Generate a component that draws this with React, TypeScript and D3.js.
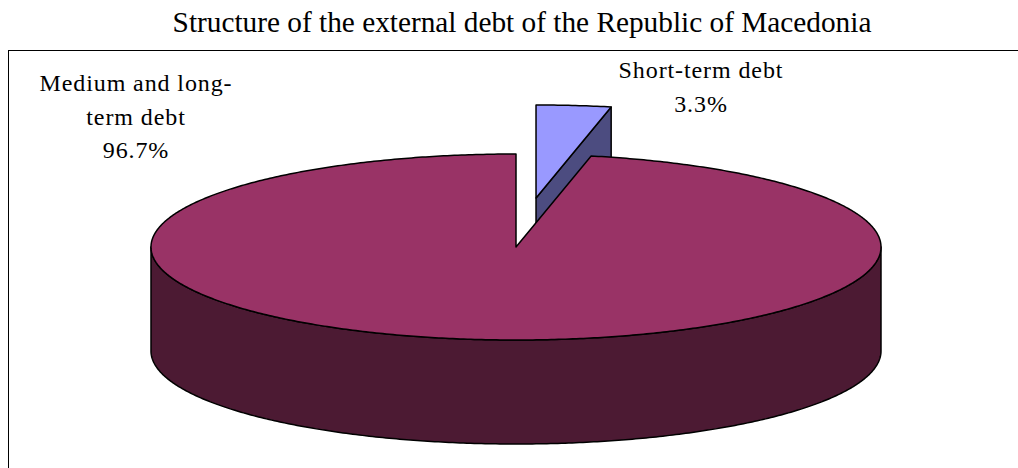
import React from "react";
import * as d3 from "d3";

const title = "Structure of the external debt of the Republic of Macedonia";
const categories = ["Short-term debt", "Medium and long-term debt"];
const values = [3.3, 96.7];
const labelLines = [["Short-term debt", "3.3%"], ["Medium and long-", "term debt", "96.7%"]];
const topColors = ["#9999FF", "#993366"];
const sideColors = ["#4C4C80", "#4C1A33"];
const exploded = [0.53, 0];

const W = 1018;
const H = 468;
const CX = 516;
const CY = 247;
const RX = 365;
const RY = 93;
const DEPTH = 104;

function pt(a: number, cx: number, cy: number, dy = 0): [number, number] {
  return [cx + RX * Math.sin(a), cy - RY * Math.cos(a) + dy];
}

function arcPts(a0: number, a1: number, cx: number, cy: number, dy = 0): [number, number][] {
  const n = Math.max(2, Math.ceil(Math.abs(a1 - a0) / 0.01));
  const out: [number, number][] = [];
  for (let i = 0; i <= n; i++) {
    const a = a0 + ((a1 - a0) * i) / n;
    out.push(pt(a, cx, cy, dy));
  }
  return out;
}

const toPath = (p: [number, number][]) =>
  "M" + p.map((q) => q[0].toFixed(2) + "," + q[1].toFixed(2)).join("L") + "Z";

export default function App() {
  const pie = d3.pie<number>().sort(null).startAngle(0).endAngle(2 * Math.PI);
  const arcs = pie(values);

  const slices = arcs.map((a, i) => {
    const mid = (a.startAngle + a.endAngle) / 2;
    const k = exploded[i];
    const cx = CX + RX * k * Math.sin(mid);
    const cy = CY - RY * k * Math.cos(mid);
    return { a, i, cx, cy };
  });

  const elems: React.ReactNode[] = [];
  const order = [0, 1];
  order.forEach((idx) => {
    const { a, cx, cy } = slices[idx];
    const s = a.startAngle;
    const e = a.endAngle;
    if (e < Math.PI && e > 0) {
      const p1 = pt(e, cx, cy);
      const poly: [number, number][] = [[cx, cy], p1, [p1[0], p1[1] + DEPTH], [cx, cy + DEPTH]];
      elems.push(
        <path key={"rw" + idx} d={toPath(poly)} fill={sideColors[idx]} stroke="#000" strokeWidth={1.5} strokeLinejoin="round" />
      );
    }
    const f0 = Math.max(s, Math.PI / 2);
    const f1 = Math.min(e, (3 * Math.PI) / 2);
    if (f1 > f0) {
      const top = arcPts(f0, f1, cx, cy);
      const bot = arcPts(f1, f0, cx, cy, DEPTH);
      elems.push(
        <path key={"ow" + idx} d={toPath([...top, ...bot])} fill={sideColors[idx]} stroke="#000" strokeWidth={1.5} strokeLinejoin="round" />
      );
    }
    const topFace: [number, number][] = [[cx, cy], ...arcPts(s, e, cx, cy)];
    elems.push(
      <path key={"tf" + idx} d={toPath(topFace)} fill={topColors[idx]} stroke="#000" strokeWidth={1.5} strokeLinejoin="round" />
    );
  });

  const font = "'Liberation Serif', 'Times New Roman', serif";
  const labelPos = [
    { x: 701, y: 78 },
    { x: 136, y: 91 },
  ];

  return (
    <svg width={W} height={H} style={{ position: "absolute", left: 0, top: 0, background: "#fff" }}>
      <text x={522} y={32} textAnchor="middle" fontFamily={font} fontSize={29.3} fill="#000">
        {title}
      </text>
      <rect x={8.5} y={50.5} width={1100} height={600} fill="none" stroke="#000" strokeWidth={1} />
      {elems}
      {labelLines.map((lines, i) => (
        <text key={categories[i]} fontFamily={font} fontSize={24} fill="#000" textAnchor="middle" letterSpacing={0.9}>
          {lines.map((l, j) => (
            <tspan key={j} x={labelPos[i].x} y={labelPos[i].y + j * 33.7}>
              {l}
            </tspan>
          ))}
        </text>
      ))}
    </svg>
  );
}
